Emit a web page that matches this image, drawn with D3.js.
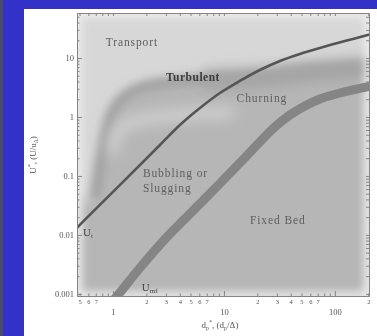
<!DOCTYPE html>
<html>
<head>
<meta charset="utf-8">
<script src="https://cdn.jsdelivr.net/npm/d3@7"></script>
<style>
  body { margin: 0; background: #3232c8; }
  svg { display: block; }
</style>
</head>
<body>
<div id="chart"></div>
<script>
// curves (dp*, U*)
const utX = [0.47, 0.484, 1.34, 2.65, 4.01, 6.08, 9.2, 13.9, 21.1, 32, 48.4, 73.3, 123, 205];
const utY = [0.0128, 0.0137, 0.0925, 0.335, 0.731, 1.42, 2.55, 4.08, 6.26, 8.9, 11.7, 14.8, 19.4, 25];

const umfX = [0.847, 1.09, 1.75, 3.07, 6.74, 14.8, 21.1, 28.8, 39.3, 53.7, 73.3, 111, 205];
const umfY = [0.00054, 0.00092, 0.00276, 0.00925, 0.041, 0.187, 0.377, 0.677, 1.08, 1.54, 2.02, 2.55, 3.3];

// shaded transition zone (dark) and the light glow under it
const turbX = [0.7, 0.76, 0.84, 0.96, 1.2, 1.75, 2.94, 7.5, 21, 59, 205];
const turbY = [0.04, 0.12, 0.36, 0.98, 1.94, 3.0, 3.7, 4.2, 4.6, 5.8, 6.8];
const glowX = [0.98, 1.16, 1.75, 4.0, 11.3];
const glowY = [0.276, 0.65, 0.89, 1.08, 1.22];

const yMajor = [0.001, 0.01, 0.1, 1, 10];
const yLabels = ["0.001", "0.01", "0.1", "1", "10"];
const xMajor = [1, 10, 100];
const xLabels = ["1", "10", "100"];
const xMinorLabelled = [0.5, 0.6, 0.7, 2, 3, 4, 5, 6, 7, 20, 30, 40, 50, 60, 70, 200];

const regionNames = ["Transport", "Churning", "Bubbling or", "Slugging", "Fixed Bed"];
const regionX = [1.48, 22, 1.86, 1.86, 30.6];
const regionY = [16, 1.8, 0.096, 0.054, 0.0153];

const W = 377, H = 336;
const svg = d3.select("#chart").append("svg").attr("width", W).attr("height", H);

svg.append("rect").attr("x", 0).attr("y", 0).attr("width", 3).attr("height", H).attr("fill", "#4d4d5a");
svg.append("rect").attr("x", 24).attr("y", 9).attr("width", W - 24).attr("height", H - 9).attr("fill", "#fff");

const x = d3.scaleLog().domain([0.474, 203]).range([77, 369]);
const y = d3.scaleLog().domain([0.00092, 58]).range([296, 13]);

const defs = svg.append("defs");
defs.append("clipPath").attr("id", "clip")
  .append("rect").attr("x", 77).attr("y", 13).attr("width", 292).attr("height", 283);
const blur = (id, s) => defs.append("filter").attr("id", id)
  .attr("filterUnits", "userSpaceOnUse")
  .attr("x", 0).attr("y", 0).attr("width", W).attr("height", H)
  .append("feGaussianBlur").attr("stdDeviation", s);
blur("b7", 7); blur("b4", 4); blur("b1", 0.6); blur("b05", 0.45);

const line = d3.line().x(d => x(d[0])).y(d => y(d[1])).curve(d3.curveCatmullRom.alpha(0.5));
const ut = d3.zip(utX, utY), umf = d3.zip(umfX, umfY);
const turb = d3.zip(turbX, turbY), glow = d3.zip(glowX, glowY);

const [x0, x1] = x.domain(), [y0] = y.domain();

// background shading
const bg = svg.append("g").attr("clip-path", "url(#clip)");
bg.append("rect").attr("x", 77).attr("y", 13).attr("width", 292).attr("height", 283).attr("fill", "#d7d7d7");

// filled region under the transition zone
const lowerPath = line(turb) + "L" + x(x1) + "," + y(y0 / 2) + "L" + x(x0) + "," + y(y0 / 2) +
  "L" + x(x0) + "," + y(turbY[0]) + "Z";
bg.append("path").attr("d", lowerPath).attr("fill", "#b6b6b6").attr("filter", "url(#b7)");
bg.append("path").attr("d", line(turb)).attr("fill", "none").attr("stroke", "#a2a2a2")
  .attr("stroke-width", 12).attr("filter", "url(#b4)");
bg.append("path").attr("d", line(turb.slice(7))).attr("fill", "none").attr("stroke", "#a6a6a6")
  .attr("stroke-width", 20).attr("stroke-linecap", "round").attr("filter", "url(#b7)");
bg.append("path").attr("d", line(glow)).attr("fill", "none").attr("stroke", "#d4d4d4")
  .attr("stroke-width", 10).attr("stroke-linecap", "round").attr("filter", "url(#b7)");
// soft white edge
bg.append("rect").attr("x", 77).attr("y", 13).attr("width", 292).attr("height", 283)
  .attr("fill", "none").attr("stroke", "#f0f0f0").attr("stroke-width", 8).attr("filter", "url(#b4)");

// curves
const curves = svg.append("g").attr("clip-path", "url(#clip)");
curves.append("path").attr("d", line(umf)).attr("fill", "none").attr("stroke", "#858585")
  .attr("stroke-width", 9).attr("filter", "url(#b1)");
curves.append("path").attr("d", line(ut)).attr("fill", "none").attr("stroke", "#555")
  .attr("stroke-width", 2.6).attr("filter", "url(#b05)");

// axes
const axColor = "#858585";
const decadesY = d3.range(-3, 2).flatMap(e => d3.range(1, 10).map(k => k * Math.pow(10, e))).filter(v => v >= y0 && v <= 58);
const decadesX = d3.range(-1, 3).flatMap(e => d3.range(1, 10).map(k => k * Math.pow(10, e))).filter(v => v >= x0 && v <= x1);
const isMajor = (list, v) => list.some(m => Math.abs(m - v) / m < 1e-9);
const yMinor = decadesY.filter(v => !isMajor(yMajor, v));
const xMinor = decadesX.filter(v => !isMajor(xMajor, v));

const axes = svg.append("g").attr("filter", "url(#b05)");
const styleAxis = g => {
  g.selectAll("path").attr("stroke", axColor);
  g.selectAll("line").attr("stroke", axColor);
  g.selectAll("text").attr("fill", "#555").attr("font-family", "Liberation Serif, serif");
};
axes.append("g").attr("transform", "translate(77,0)")
  .call(d3.axisLeft(y).tickValues(yMinor).tickSize(-2.5).tickSizeOuter(0).tickFormat(""));
axes.append("g").attr("transform", "translate(77,0)")
  .call(d3.axisLeft(y).tickValues(yMajor).tickSize(-5).tickSizeOuter(0).tickPadding(3)
    .tickFormat((d, i) => yLabels[i]))
  .call(g => g.selectAll("text").attr("font-size", 8.5));
axes.append("g").attr("transform", "translate(369,0)")
  .call(d3.axisRight(y).tickValues(decadesY).tickSize(-3).tickSizeOuter(0).tickFormat(""));
axes.append("g").attr("transform", "translate(0,13)")
  .call(d3.axisTop(x).tickValues(decadesX).tickSize(-3).tickSizeOuter(0).tickFormat(""));
axes.append("g").attr("transform", "translate(0,296)")
  .call(d3.axisBottom(x).tickValues(xMinor).tickSize(-2.5).tickSizeOuter(0).tickFormat(""));
axes.append("g").attr("transform", "translate(0,296)")
  .call(d3.axisBottom(x).tickValues(xMinorLabelled).tickSize(0).tickPadding(3)
    .tickFormat(d => String(Math.round(d / Math.pow(10, Math.floor(Math.log10(d) + 1e-9))))))
  .call(g => g.select(".domain").remove())
  .call(g => g.selectAll("text").attr("font-size", 6.5));
axes.append("g").attr("transform", "translate(0,296)")
  .call(d3.axisBottom(x).tickValues(xMajor).tickSize(-5).tickSizeOuter(0).tickPadding(13)
    .tickFormat((d, i) => xLabels[i]))
  .call(g => g.selectAll("text").attr("font-size", 8.5));
axes.selectAll("g").call(styleAxis);

// region labels
const labels = svg.append("g").attr("font-family", "Liberation Serif, serif").attr("filter", "url(#b05)");
labels.selectAll("text.region").data(regionNames).join("text")
  .attr("class", "region")
  .attr("x", (d, i) => x(regionX[i]))
  .attr("y", (d, i) => y(regionY[i]))
  .attr("text-anchor", (d, i) => (d === "Bubbling or" || d === "Slugging") ? "start" : "middle")
  .attr("font-size", 11.5).attr("letter-spacing", 0.9).attr("fill", "#5e5e5e")
  .text(d => d);
labels.append("text").attr("x", x(5.26)).attr("y", y(4.07)).attr("text-anchor", "middle")
  .attr("font-size", 11.5).attr("font-weight", "bold").attr("letter-spacing", 0.5).attr("fill", "#3a3a3a")
  .text("Turbulent");

const ut_t = labels.append("text").attr("x", x(0.537)).attr("y", y(0.0096)).attr("font-size", 11).attr("fill", "#444");
ut_t.append("tspan").text("U");
ut_t.append("tspan").attr("font-size", 7).attr("dy", 2).text("t");
const umf_t = labels.append("text").attr("x", x(1.82)).attr("y", y(0.00112)).attr("font-size", 11).attr("fill", "#444");
umf_t.append("tspan").text("U");
umf_t.append("tspan").attr("font-size", 7).attr("dy", 2).text("mf");

// axis titles
const xt = labels.append("text").attr("x", 220).attr("y", 328).attr("text-anchor", "middle")
  .attr("font-size", 9).attr("fill", "#555");
xt.append("tspan").text("d");
xt.append("tspan").attr("font-size", 6).attr("dy", 2).text("p");
xt.append("tspan").attr("font-size", 6).attr("dy", -6).text("*");
xt.append("tspan").attr("dy", 4).text(", (d");
xt.append("tspan").attr("font-size", 6).attr("dy", 2).text("p");
xt.append("tspan").attr("dy", -2).text("/Δ)");

const yt = labels.append("text").attr("transform", "translate(36,155) rotate(-90)").attr("text-anchor", "middle")
  .attr("font-size", 9).attr("fill", "#555");
yt.append("tspan").text("U");
yt.append("tspan").attr("font-size", 6).attr("dy", -4).text("*");
yt.append("tspan").attr("dy", 4).text(", (U/u");
yt.append("tspan").attr("font-size", 6).attr("dy", 2).text("Δ");
yt.append("tspan").attr("dy", -2).text(")");
</script>
</body>
</html>
